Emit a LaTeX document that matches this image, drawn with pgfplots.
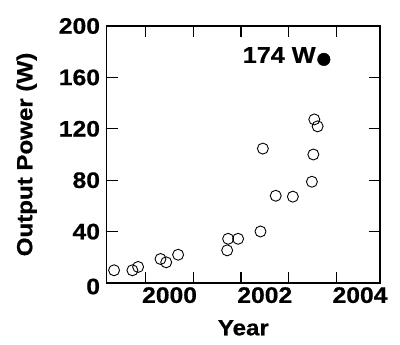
\documentclass[border=0pt]{standalone}
\usepackage{pgfplots}
\pgfplotsset{compat=1.18}
\usepackage{fontspec}
\setmainfont{Liberation Sans}[FakeStretch=1.1, BoldFeatures={FakeBold=0.6}]
\begin{document}
\begin{tikzpicture}
\begin{axis}[
 scale only axis, width=273.3bp, height=257bp,
 xmin=1998.68, xmax=2004.42, ymin=0, ymax=200,
 xtick={1999.5,2000.5,2001.5,2002.5,2003.5}, xticklabels={},
 extra x ticks={2000,2002,2004}, extra x tick labels={2000,2002,2004},
 extra x tick style={major tick length=0pt},
 ytick={40,80,...,200},
 extra y ticks={0},
 extra y tick style={yticklabel style={yshift=-3.5bp}},
 major tick length=11bp,
 axis line style={line width=1.2bp},
 every tick/.style={line width=1.2bp, black},
 tick label style={font=\fontsize{22.5}{26}\selectfont\bfseries, inner sep=0pt},
 /pgf/number format/assume math mode=true,
 /pgf/number format/1000 sep={},
 yticklabel style={xshift=-6.5bp},
 xticklabel style={yshift=-4bp},
 xlabel={Year}, ylabel={Output Power (W)},
 label style={font=\fontsize{22}{27}\selectfont\bfseries, inner sep=0pt},
 xlabel style={at={(rel axis cs:0.5,-0.144)}, anchor=north},
 ylabel style={at={(rel axis cs:-0.255,0.5)}, anchor=south},
 clip=false,
]
\addplot[only marks, mark=o, mark size=5.5bp, mark options={line width=0.9bp}] coordinates {
(1998.835,9.9) (1999.22,9.9) (1999.34,12.5) (1999.81,18.7) (1999.93,16.1)
(2000.18,22.0) (2001.21,25.4) (2001.23,34.4) (2001.44,34.4) (2001.91,40.1)
(2001.96,104.6) (2002.23,67.9) (2002.59,67.2) (2002.99,78.8) (2003.02,100)
(2003.04,127.3) (2003.11,121.9)
};
\addplot[only marks, mark=*, mark size=6.3bp, black] coordinates {(2003.24,174)};
\node[anchor=base east, font=\fontsize{23}{26}\selectfont\bfseries, inner sep=0pt, xshift=-8bp, yshift=-3.5bp] at (axis cs:2003.24,174) {174 W};
\path (rel axis cs:0,0) ++(-106.7bp,-62bp) rectangle ++(400bp,345bp);
\end{axis}
\end{tikzpicture}
\end{document}
